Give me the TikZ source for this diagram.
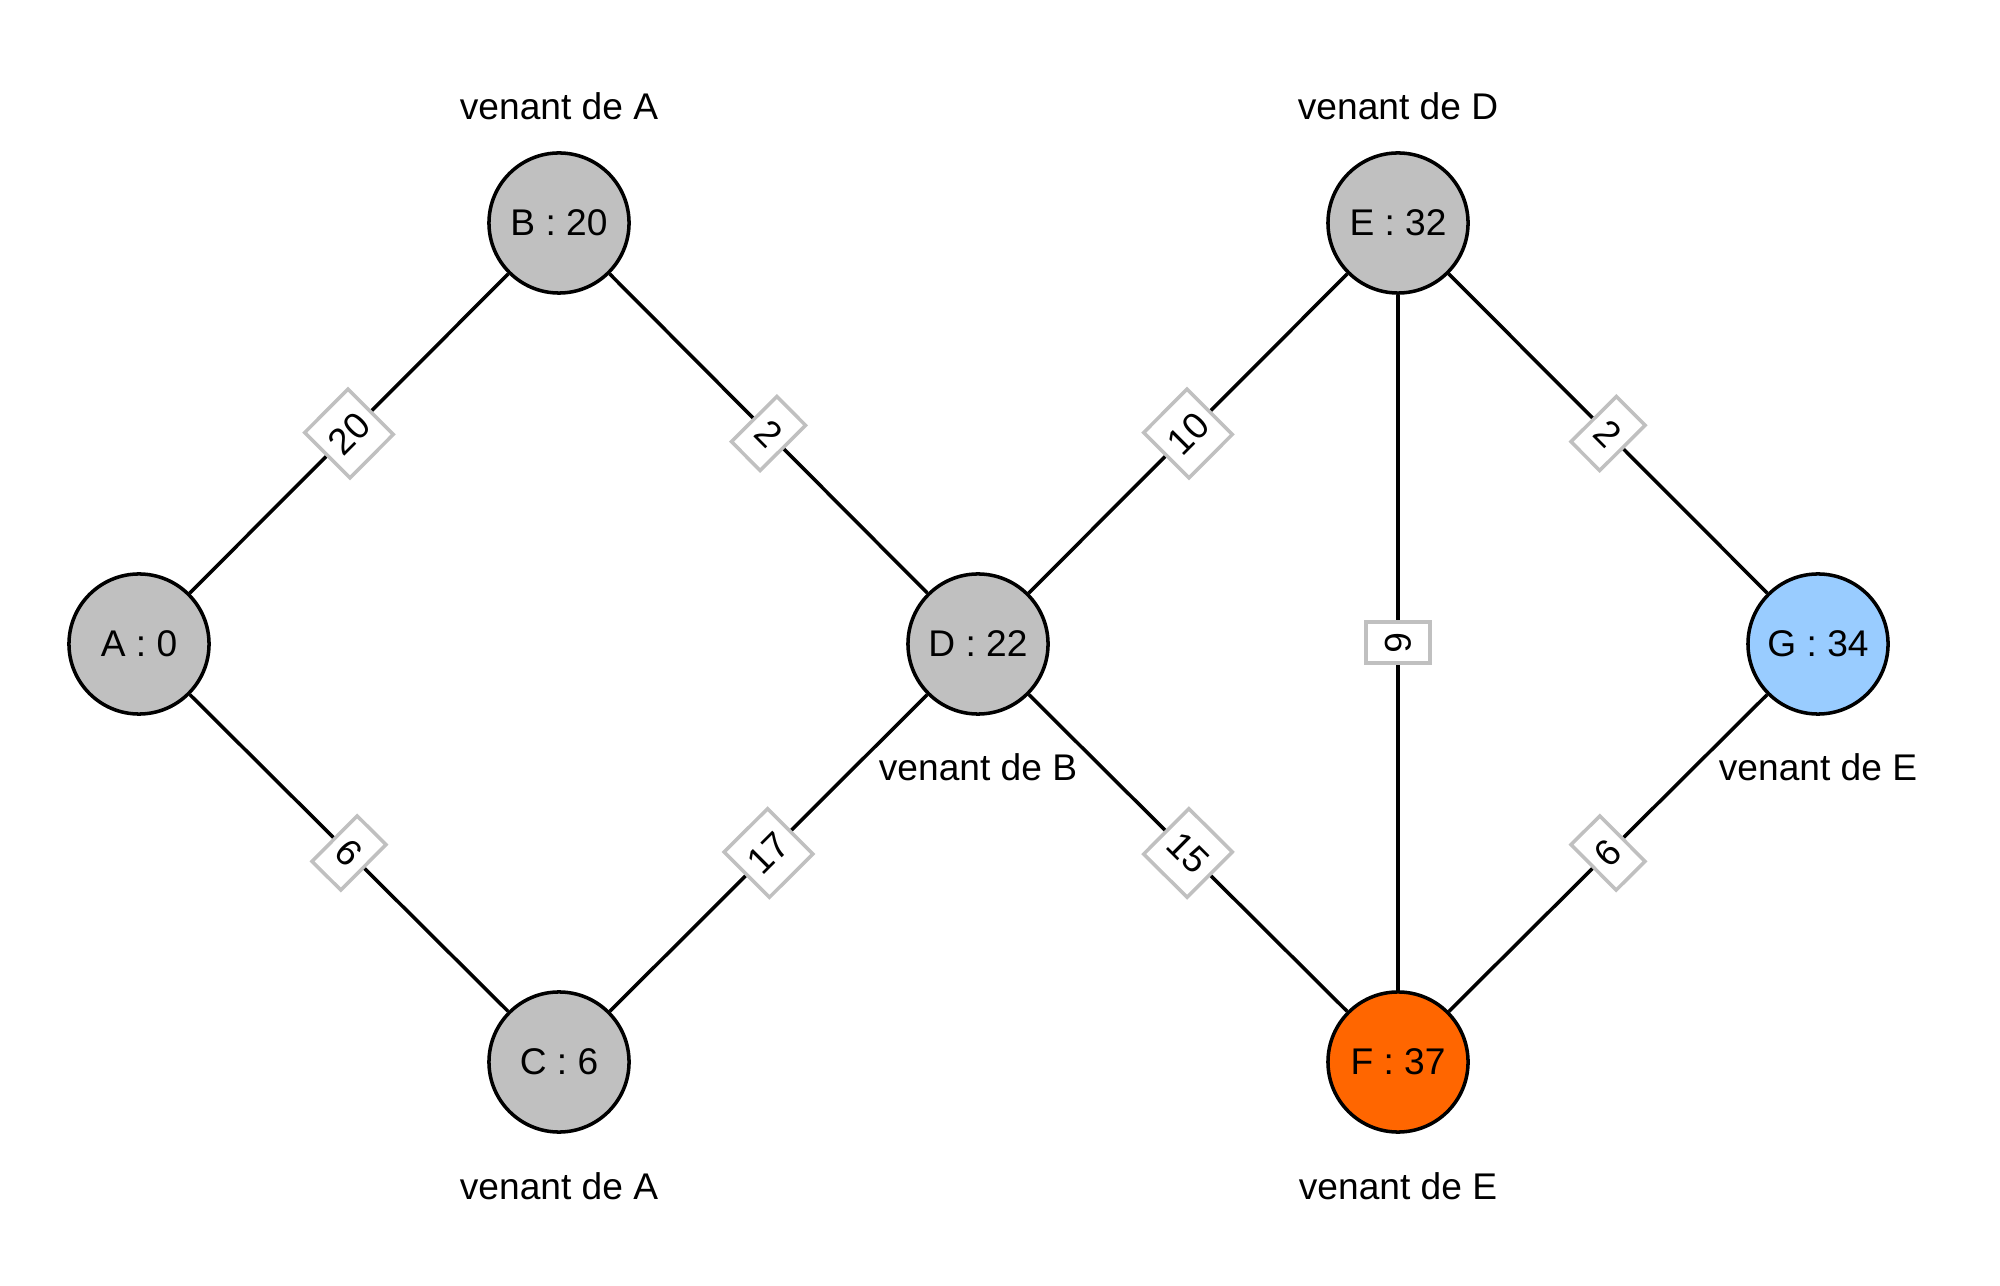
\documentclass[tikz,border=0pt]{standalone}
\usepackage{fontspec}
\setmainfont{Liberation Sans}
\definecolor{nodegray}{HTML}{C0C0C0}
\definecolor{lblgray}{HTML}{C0C0C0}
\definecolor{forange}{HTML}{FF6600}
\definecolor{gblue}{HTML}{99CCFF}
\begin{document}
\begin{tikzpicture}[x=0.01cm,y=-0.01cm,
  every node/.style={font=\fontsize{10.56}{12.7}\selectfont},
  vertex/.style={circle,draw=black,line width=1pt,fill=nodegray,minimum size=1.4cm,inner sep=0pt},
  edge/.style={line width=1pt,black},
  lbl/.style={draw=lblgray,line width=1pt,fill=white,sloped,inner xsep=0.1cm,inner ysep=0pt,minimum height=0.64cm,midway},
  note/.style={inner sep=0pt}]
\useasboundingbox (0,0) rectangle (2000,1286);
\node[vertex] (A) at (139,644) {A : 0};
\node[vertex] (B) at (559,223) {B : 20};
\node[vertex] (C) at (559,1062) {C : 6};
\node[vertex] (D) at (978,644) {D : 22};
\node[vertex] (E) at (1398,223) {E : 32};
\node[vertex,fill=forange] (F) at (1398,1062) {F : 37};
\node[vertex,fill=gblue] (G) at (1818,644) {G : 34};
\draw[edge] (A) -- node[lbl]{20} (B);
\draw[edge] (A) -- node[lbl]{6} (C);
\draw[edge] (B) -- node[lbl]{2} (D);
\draw[edge] (C) -- node[lbl]{17} (D);
\draw[edge] (D) -- node[lbl]{10} (E);
\draw[edge] (D) -- node[lbl]{15} (F);
\draw[edge] (E) -- node[lbl]{6} (F);
\draw[edge] (E) -- node[lbl]{2} (G);
\draw[edge] (F) -- node[lbl]{6} (G);
\node[note] (nB) at (559,106) {venant de A};
\node[note] (nC) at (559,1186) {venant de A};
\node[note] (nD) at (978,767) {venant de B};
\node[note] (nE) at (1398,106) {venant de D};
\node[note] (nF) at (1398,1186) {venant de E};
\node[note] (nG) at (1818,767) {venant de E};
\end{tikzpicture}
\end{document}
